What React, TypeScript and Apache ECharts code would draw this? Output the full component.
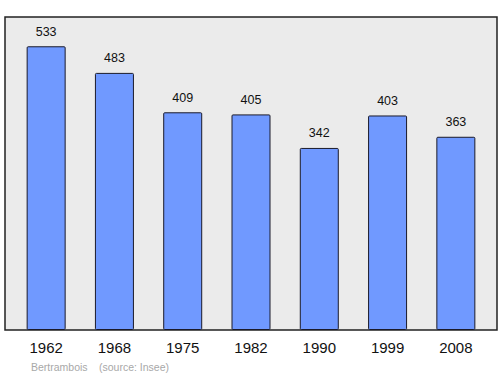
import React, { useEffect, useRef } from "react";
import * as echarts from "echarts";

const years = ["1962", "1968", "1975", "1982", "1990", "1999", "2008"];
const population = [533, 483, 409, 405, 342, 403, 363];
const placeName = "Bertrambois";
const sourceText = "(source: Insee)";

const FONT = "Liberation Sans, Arial, sans-serif";

export default function App() {
  const ref = useRef<HTMLDivElement>(null);
  useEffect(() => {
    if (!ref.current) return;
    const chart = echarts.init(ref.current, null, { renderer: "svg" });
    chart.setOption({
      animation: false,
      backgroundColor: "#ffffff",
      textStyle: { fontFamily: FONT },
      graphic: [
        {
          type: "rect",
          z: -10,
          shape: { x: 5, y: 17, width: 492, height: 313 },
          style: { fill: "#ebebeb", stroke: "#222", lineWidth: 1.5 },
        },
        {
          type: "text",
          x: 31,
          y: 361,
          style: { text: placeName, fill: "#a8a8a8", fontSize: 10.5, fontFamily: FONT },
        },
        {
          type: "text",
          x: 99,
          y: 361,
          style: { text: sourceText, fill: "#a8a8a8", fontSize: 10.5, fontFamily: FONT },
        },
      ],
      grid: { left: 12, top: 17, width: 478, height: 313, containLabel: false },
      xAxis: {
        type: "category",
        data: years,
        axisLine: { show: false },
        axisTick: { show: false },
        axisLabel: { color: "#111", fontSize: 15, margin: 10, fontFamily: FONT },
      },
      yAxis: {
        type: "value",
        min: 0,
        max: 588,
        show: false,
        splitLine: { show: false },
      },
      series: [
        {
          type: "bar",
          data: population,
          barWidth: 39,
          itemStyle: {
            color: "#7099ff",
            borderColor: "#1a1a2a",
            borderWidth: 1,
            borderRadius: 1,
          },
          label: {
            show: true,
            position: "top",
            distance: 8,
            color: "#111",
            fontSize: 12.5,
            fontFamily: FONT,
          },
        },
      ],
    });
    return () => chart.dispose();
  }, []);
  return <div ref={ref} style={{ width: 500, height: 374, position: "absolute", left: 0, top: 0 }} />;
}
